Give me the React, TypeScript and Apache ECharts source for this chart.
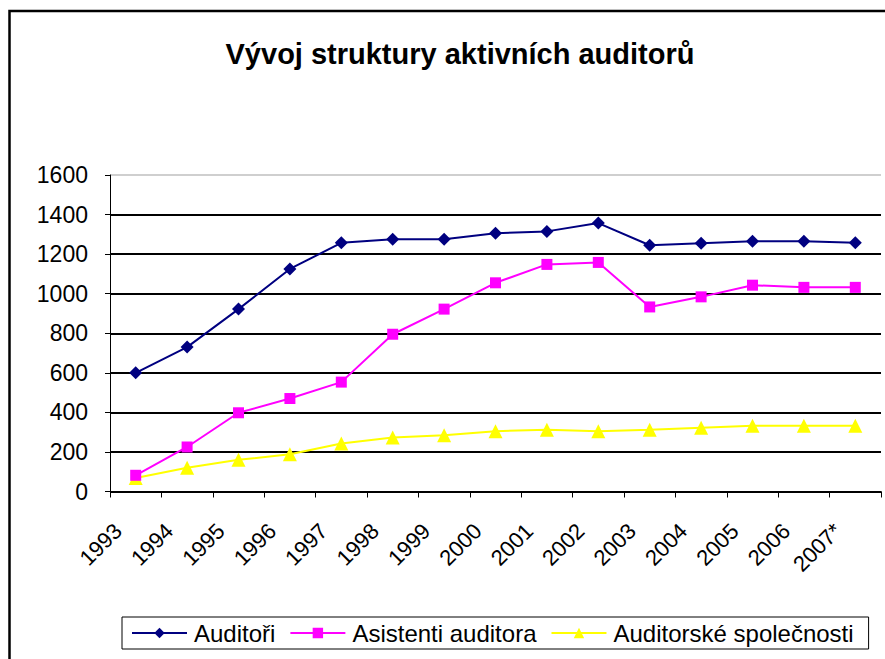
import React, { useEffect, useRef } from "react";
import * as echarts from "echarts";

const years = ["1993", "1994", "1995", "1996", "1997", "1998", "1999", "2000", "2001", "2002", "2003", "2004", "2005", "2006", "2007*"];
const auditori = [600, 730, 922, 1125, 1257, 1275, 1275, 1305, 1315, 1357, 1245, 1255, 1265, 1265, 1257];
const asistenti = [82, 225, 398, 470, 553, 795, 922, 1055, 1148, 1158, 933, 984, 1043, 1032, 1032];
const spolecnosti = [68, 120, 160, 188, 243, 273, 284, 305, 312, 304, 312, 322, 332, 332, 332];
const yTicks = [0, 200, 400, 600, 800, 1000, 1200, 1400, 1600];

const FONT = "'Liberation Sans', Arial, sans-serif";

export default function App() {
  const ref = useRef<HTMLDivElement>(null);
  useEffect(() => {
    if (!ref.current) return;
    const chart = echarts.init(ref.current, null, { renderer: "svg" });
    const gridColors = yTicks.map((v, i) => (i === yTicks.length - 1 ? "#cfcfcf" : "#000000"));
    chart.setOption({
      animation: false,
      backgroundColor: "#ffffff",
      textStyle: { fontFamily: FONT },
      title: {
        text: "Vývoj struktury aktivních auditorů",
        left: 455,
        textAlign: "center",
        top: 34,
        textStyle: { fontFamily: FONT, fontWeight: "bold", fontSize: 29, color: "#000" },
      },
      grid: { left: 110, right: 4, top: 175, bottom: 167.5, containLabel: false },
      xAxis: {
        type: "category",
        data: years,
        boundaryGap: true,
        axisLine: { lineStyle: { color: "#000", width: 1 } },
        axisTick: { show: true, interval: 0, length: 6, lineStyle: { color: "#000" } },
        axisLabel: {
          interval: 0,
          rotate: 45,
          margin: 18,
          fontSize: 22,
          color: "#000",
          fontFamily: FONT,
          padding: [0, 25, 0, 0],
        },
        splitLine: { show: false },
      },
      yAxis: {
        type: "value",
        min: 0,
        max: 1600,
        interval: 200,
        axisLine: { show: true, lineStyle: { color: "#000", width: 1 } },
        axisTick: { show: true, length: 5, lineStyle: { color: "#000" } },
        axisLabel: {
          fontSize: 23,
          color: "#000",
          margin: 22,
          fontFamily: FONT,
          formatter: (v: number) => String(v),
        },
        splitLine: { show: true, lineStyle: { color: gridColors, width: 2 } },
      },
      legend: {
        left: 122,
        top: 617,
        orient: "horizontal",
        borderColor: "#000",
        borderWidth: 1,
        padding: [4, 15, 4, 9],
        itemWidth: 55,
        itemHeight: 13,
        itemGap: 14,
        textStyle: { fontSize: 24, color: "#000", fontFamily: FONT, padding: [0, 0, 0, 2] },
        data: ["Auditoři", "Asistenti auditora", "Auditorské společnosti"],
      },
      graphic: [
        {
          type: "rect",
          shape: { x: 9.5, y: 11, width: 1000, height: 1000 },
          style: { fill: "none", stroke: "#000", lineWidth: 2.5 },
          silent: true,
          z: 100,
        },
      ],
      series: [
        {
          name: "Auditoři",
          type: "line",
          data: auditori,
          symbol: "diamond",
          symbolSize: 13,
          lineStyle: { color: "#000080", width: 2 },
          itemStyle: { color: "#000080" },
          z: 3,
        },
        {
          name: "Asistenti auditora",
          type: "line",
          data: asistenti,
          symbol: "rect",
          symbolSize: 11,
          lineStyle: { color: "#ff00ff", width: 2 },
          itemStyle: { color: "#ff00ff" },
          z: 2,
        },
        {
          name: "Auditorské společnosti",
          type: "line",
          data: spolecnosti,
          symbol: "triangle",
          symbolSize: 14,
          lineStyle: { color: "#ffff00", width: 2 },
          itemStyle: { color: "#ffff00" },
          z: 1,
        },
      ],
    });
    return () => chart.dispose();
  }, []);
  return (
    <div
      ref={ref}
      style={{ position: "fixed", left: 0, top: 0, width: 885, height: 659, background: "#fff" }}
    />
  );
}
